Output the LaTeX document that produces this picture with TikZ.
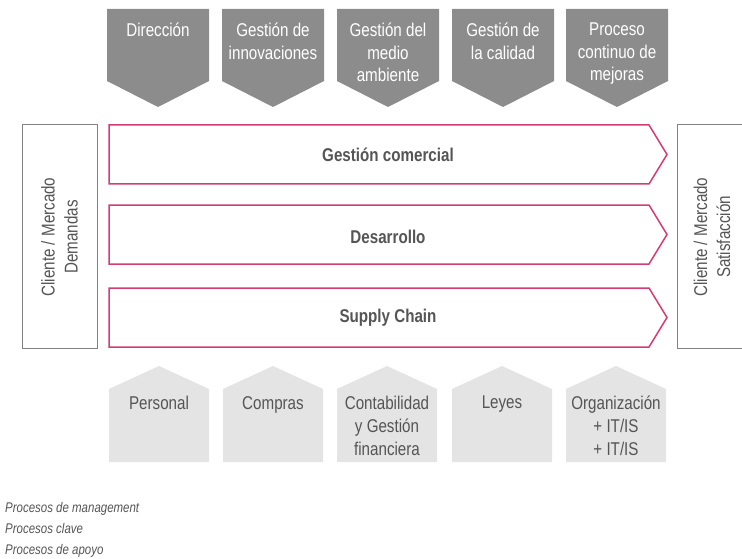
\documentclass[tikz,border=0pt]{standalone}
\usepackage{fontspec}
\setmainfont{Liberation Sans}[FakeStretch=0.82]
\definecolor{topgrey}{RGB}{140,140,140}
\definecolor{botgrey}{RGB}{228,228,228}
\definecolor{txtgrey}{RGB}{85,85,85}
\definecolor{pinkline}{RGB}{214,60,115}
\definecolor{boxgrey}{RGB}{130,130,130}
\tikzset{
  mgmt/.style={fill=topgrey, draw=none},
  mgmttxt/.style={anchor=north, align=center, inner sep=0pt, text=white, font=\fontsize{18.5}{22.5}\selectfont},
  keyproc/.style={draw=pinkline, line width=1.5pt, fill=white, line join=miter},
  keytxt/.style={anchor=center, inner sep=0pt, text=txtgrey, font=\fontsize{18.5}{22}\selectfont\bfseries},
  supp/.style={fill=botgrey, draw=none},
  supptxt/.style={anchor=north, align=center, inner sep=0pt, text=txtgrey, font=\fontsize{18.5}{23}\selectfont},
  sidebox/.style={draw=boxgrey, line width=1pt, fill=white},
  sidetxt/.style={rotate=90, align=center, inner sep=0pt, text=txtgrey, font=\fontsize{18.5}{23}\selectfont},
  legtxt/.style={anchor=base west, inner sep=0pt, text=txtgrey, font=\fontsize{14}{16}\selectfont\itshape}
}
\begin{document}
\begin{tikzpicture}[x=1pt,y=-1pt]
\useasboundingbox (0,0) rectangle (742,559);
\begin{scope}
\clip (0,0) rectangle (742,559);
% management processes (top chevrons)
\foreach \x in {107,222,337,452,566}{
  \fill[mgmt] (\x,9) -- ++(102,0) -- ++(0,72) -- ++(-51,26) -- ++(-51,-26) -- cycle;
}
\node[mgmttxt] (m1) at (158,23) {Dirección};
\node[mgmttxt] (m2) at (273,23) {Gestión de\\innovaciones};
\node[mgmttxt] (m3) at (388,23) {Gestión del\\medio\\ambiente};
\node[mgmttxt] (m4) at (503,23) {Gestión de\\la calidad};
\node[mgmttxt] (m5) at (617,23) {Proceso\\continuo de\\mejoras};
% side boxes
\draw[sidebox] (22,125) rectangle (97,348);
\draw[sidebox] (677,125) rectangle (752,348);
\node[sidetxt] (cl) at (59.5,237) {Cliente / Mercado\\Demandas};
\node[sidetxt] (cr) at (712,237) {Cliente / Mercado\\Satisfacción};
% key processes
\foreach \t/\b in {125/184,205/264,288/347}{
  \draw[keyproc] (109,\t) -- (649,\t) -- (667,{(\t+\b)/2}) -- (649,\b) -- (109,\b) -- cycle;
}
\node[keytxt] (k1) at (388,155) {Gestión comercial};
\node[keytxt] (k2) at (388,237) {Desarrollo};
\node[keytxt] (k3) at (388,318) {Supply Chain};
% support processes (bottom houses)
\foreach \x in {109,223,337,452,566}{
  \fill[supp] (\x,389) -- ++(50,-23) -- ++(50,23) -- ++(0,73) -- ++(-100,0) -- cycle;
}
\node[supptxt] (s1) at (159,396) {Personal};
\node[supptxt] (s2) at (273,396) {Compras};
\node[supptxt] (s3) at (387,396) {Contabilidad\\y Gestión\\financiera};
\node[supptxt] (s4) at (502,396) {Leyes};
\node[supptxt] (s5) at (616,396) {Organización\\+ IT/IS\\+ IT/IS};
% legend
\node[legtxt] (l1) at (5,512) {Procesos de management};
\node[legtxt] (l2) at (5,533) {Procesos clave};
\node[legtxt] (l3) at (5,554) {Procesos de apoyo};
\end{scope}
\end{tikzpicture}
\end{document}
